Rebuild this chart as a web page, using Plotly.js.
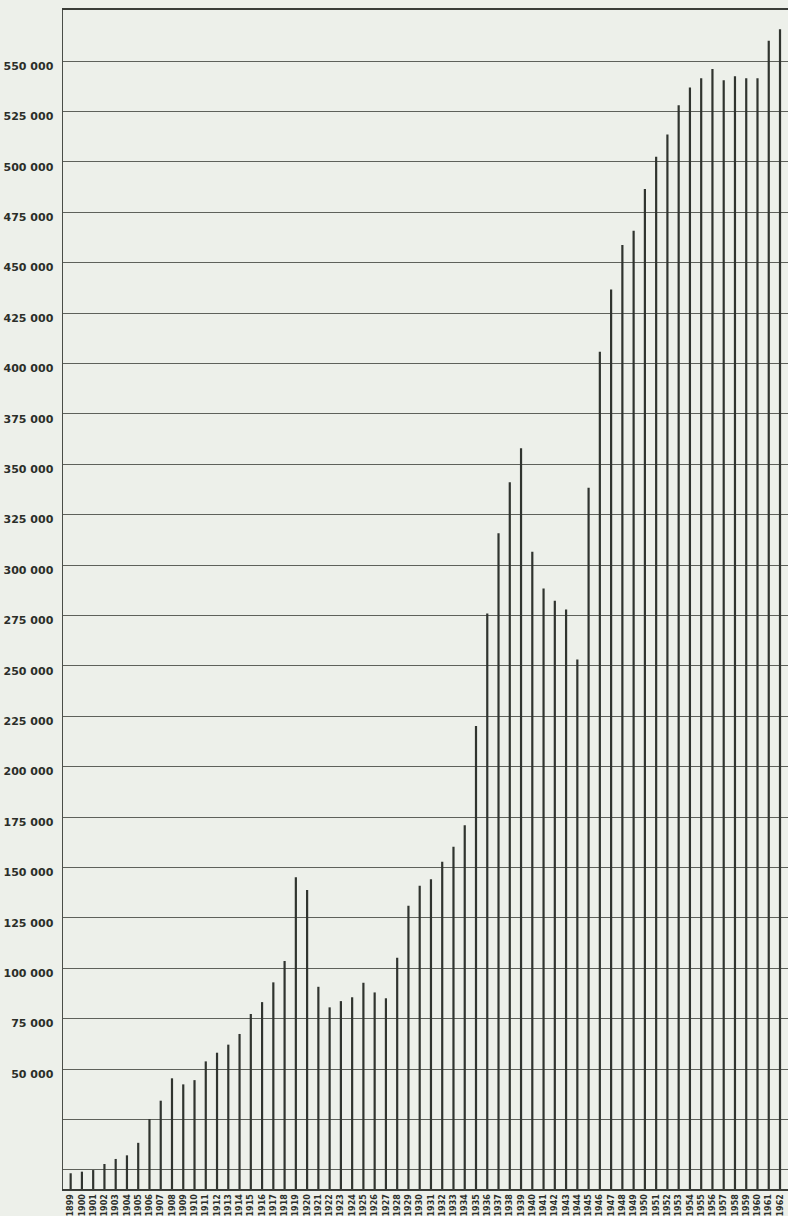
<!DOCTYPE html>
<html>
<head>
<meta charset="utf-8">
<script src="https://cdn.plot.ly/plotly-3.0.1.min.js"></script>
<style>
  html, body { margin: 0; padding: 0; background: #edf0ea; }
  #chart { width: 788px; height: 1216px; }
</style>
</head>
<body>
<div id="chart"></div>
<script>
// Years shown on the x axis
const years = [
  1899, 1900, 1901, 1902, 1903, 1904, 1905, 1906, 1907, 1908,
  1909, 1910, 1911, 1912, 1913, 1914, 1915, 1916, 1917, 1918,
  1919, 1920, 1921, 1922, 1923, 1924, 1925, 1926, 1927, 1928,
  1929, 1930, 1931, 1932, 1933, 1934, 1935, 1936, 1937, 1938,
  1939, 1940, 1941, 1942, 1943, 1944, 1945, 1946, 1947, 1948,
  1949, 1950, 1951, 1952, 1953, 1954, 1955, 1956, 1957, 1958,
  1959, 1960, 1961, 1962
];

// Values read against the labelled grid (25 000 per gridline)
const values = [
  -1700, -900, -100, 2900, 5400, 7200, 13400, 25200, 34300, 45400,
  42400, 44500, 53800, 58100, 62100, 67400, 77300, 83200, 93000, 103600,
  145100, 138800, 90800, 80600, 83700, 85600, 92800, 88000, 85100, 105200,
  131000, 140900, 144100, 152800, 160300, 170900, 220100, 276000, 315700, 341000,
  357900, 306600, 288400, 282300, 278000, 253200, 338300, 405800, 436700, 458700,
  465800, 486500, 502500, 513600, 528100, 536900, 541400, 546000, 540500, 542500,
  541400, 541400, 560000, 565700
];

// Gridline positions and their printed labels
const gridValues = [
  0, 25000, 50000, 75000, 100000, 125000, 150000, 175000, 200000, 225000,
  250000, 275000, 300000, 325000, 350000, 375000, 400000, 425000, 450000,
  475000, 500000, 525000, 550000, 575000
];
const gridLabels = [
  "", "", "50 000", "75 000", "100 000", "125 000", "150 000", "175 000", "200 000", "225 000",
  "250 000", "275 000", "300 000", "325 000", "350 000", "375 000", "400 000", "425 000", "450 000",
  "475 000", "500 000", "525 000", "550 000", ""
];
const yearLabels = years.map(String);

const yMin = -9500, yMax = 575300;

// Each bar drawn as a thin vertical stroke from the chart floor up to its value
const xs = [], ys = [];
years.forEach((yr, i) => {
  xs.push(yr, yr, null);
  ys.push(yMin, values[i], null);
});

const trace = {
  type: 'scatter',
  mode: 'lines',
  x: xs,
  y: ys,
  line: { color: '#30342f', width: 2.2 },
  connectgaps: false,
  hoverinfo: 'skip'
};

const layout = {
  width: 788,
  height: 1216,
  margin: { l: 63, r: 0, t: 10, b: 27, pad: 0 },
  paper_bgcolor: '#edf0ea',
  plot_bgcolor: '#edf0ea',
  showlegend: false,
  font: { family: 'DejaVu Sans', color: '#2b2e29' },
  xaxis: {
    range: [1898.32, 1962.71],
    tickmode: 'array',
    tickvals: years,
    ticktext: yearLabels,
    tickangle: -90,
    tickfont: { family: 'DejaVu Sans', size: 8, color: '#2b2e29', weight: 'bold' },
    ticks: '',
    showgrid: false,
    zeroline: false,
    showline: true,
    mirror: true,
    linecolor: '#3a3d38',
    linewidth: 2,
    ticklabelstandoff: 0
  },
  yaxis: {
    range: [yMin, yMax],
    tickmode: 'array',
    tickvals: gridValues,
    ticktext: gridLabels,
    tickfont: { family: 'DejaVu Sans', size: 11, color: '#2b2e29', weight: 'bold' },
    ticks: '',
    showgrid: true,
    gridcolor: '#5e615b',
    gridwidth: 1,
    zeroline: false,
    showline: true,
    linecolor: '#4a4d48',
    linewidth: 1.5,
    ticklabelstandoff: 6,
    ticklabelshift: 5
  }
};

Plotly.newPlot('chart', [trace], layout, { staticPlot: true, displayModeBar: false });
</script>
</body>
</html>
